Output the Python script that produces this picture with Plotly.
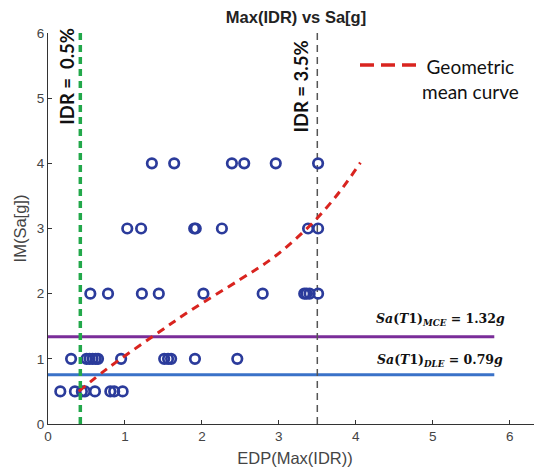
import plotly.graph_objects as go

# ---- data ----
x_im4 = [1.35, 1.64, 2.39, 2.55, 2.96, 3.51]
x_im3 = [1.03, 1.21, 1.90, 1.92, 2.26, 3.38, 3.51]
x_im2 = [0.55, 0.78, 1.22, 1.44, 2.02, 2.79, 3.33, 3.36, 3.40, 3.51]
x_im1 = [0.30, 0.50, 0.54, 0.58, 0.62, 0.65, 0.95, 1.51, 1.56, 1.60, 1.91, 2.46]
x_im05 = [0.16, 0.35, 0.44, 0.48, 0.61, 0.81, 0.86, 0.97]

curve_x = [0.40, 0.77, 1.37, 1.85, 2.50, 2.89, 3.20, 3.50, 3.80, 4.06]
curve_y = [0.50, 0.85, 1.35, 1.74, 2.22, 2.52, 2.82, 3.16, 3.58, 4.01]

idr_low = 0.42
idr_high = 3.5
sa_mce = 1.34
sa_dle = 0.755
hline_x = [0, 5.8]

xticks = [0, 1, 2, 3, 4, 5, 6]
yticks = [0, 1, 2, 3, 4, 5, 6]

pts_x = x_im4 + x_im3 + x_im2 + x_im1 + x_im05
pts_y = ([4] * len(x_im4) + [3] * len(x_im3) + [2] * len(x_im2)
         + [1] * len(x_im1) + [0.5] * len(x_im05))

fig = go.Figure()

fig.add_trace(go.Scatter(x=hline_x, y=[sa_mce, sa_mce], mode="lines",
                         line=dict(color="#7a2d99", width=3), showlegend=False))
fig.add_trace(go.Scatter(x=hline_x, y=[sa_dle, sa_dle], mode="lines",
                         line=dict(color="#3a72c8", width=3), showlegend=False))
fig.add_trace(go.Scatter(x=[idr_high, idr_high], y=[0, 6], mode="lines",
                         line=dict(color="#555555", width=1.5, dash="7px,5px"),
                         showlegend=False))
fig.add_trace(go.Scatter(x=pts_x, y=pts_y, mode="markers",
                         marker=dict(symbol="circle-open", size=9.5, color="#2b3b9b",
                                     line=dict(width=2.7, color="#2b3b9b")),
                         showlegend=False))
fig.add_trace(go.Scatter(x=curve_x, y=curve_y, mode="lines",
                         line=dict(color="#d9241f", width=3, dash="8px,6px", shape="spline",
                                   smoothing=1.0),
                         name="Geometric mean curve", showlegend=False))
fig.add_trace(go.Scatter(x=[idr_low, idr_low], y=[0, 6], mode="lines",
                         line=dict(color="#22a84a", width=3.5, dash="7px,5px"),
                         showlegend=False))

# legend sample (paper coords, relative to the plot area)
fig.add_shape(type="line", xref="paper", yref="paper",
              x0=(360 - 48) / 494, x1=(417 - 48) / 494,
              y0=(424 - 65) / 391, y1=(424 - 65) / 391,
              line=dict(color="#d9241f", width=3.5, dash="14px,7px"))

ann_font = dict(family="Lato, Open Sans, sans-serif", size=18.5, color="#111111")
fig.add_annotation(x=0.247, y=5.33, xref="x", yref="y", text="<b>IDR =  0.5%</b>",
                   textangle=-90, showarrow=False, font=ann_font)
fig.add_annotation(x=3.29, y=5.18, xref="x", yref="y", text="<b>IDR = 3.5%</b>",
                   textangle=-90, showarrow=False, font=ann_font)
fig.add_annotation(x=5.49, y=5.30, xref="x", yref="y", text="Geometric<br>mean curve",
                   showarrow=False, align="center",
                   font=dict(family="Lato, Open Sans, sans-serif", size=19, color="#111111"))
serif = dict(family="DejaVu Serif, Liberation Serif, serif", size=12.5, color="#111111")
fig.add_annotation(x=5.10, y=1.61, xref="x", yref="y",
                   text="<b><i>Sa</i>(<i>T</i>1)<sub><i>MCE</i></sub> = 1.32<i>g</i></b>",
                   showarrow=False, font=serif)
fig.add_annotation(x=5.09, y=0.97, xref="x", yref="y",
                   text="<b><i>Sa</i>(<i>T</i>1)<sub><i>DLE</i></sub> = 0.79<i>g</i></b>",
                   showarrow=False, font=serif)

# page has an 8px body margin, so the figure is sized/offset to compensate
fig.update_layout(
    width=534, height=467,
    margin=dict(l=40, r=0, t=25, b=51, autoexpand=False),
    paper_bgcolor="white", plot_bgcolor="white",
    title=dict(text="<b>Max(IDR) vs Sa[g]</b>", x=288 / 534, xanchor="center",
               y=1 - 9 / 467, yanchor="middle", automargin=False,
               font=dict(family="Liberation Sans, Arial, sans-serif", size=16.5, color="#222222")),
    font=dict(family="Liberation Sans, Arial, sans-serif", size=13, color="#444444"),
)
fig.update_xaxes(range=[0, 6.42], tickvals=xticks, ticks="inside", ticklen=4,
                 tickcolor="#333333", showgrid=False, zeroline=False, automargin=False,
                 showline=True, linecolor="#333333", linewidth=1, mirror=False,
                 title=dict(text="EDP(Max(IDR))", standoff=9,
                            font=dict(size=16.5, color="#444444")),
                 tickfont=dict(size=13.5, color="#444444"))
fig.update_yaxes(range=[0, 6], tickvals=yticks, ticks="inside", ticklen=4,
                 tickcolor="#333333", showgrid=False, zeroline=False, automargin=False,
                 showline=True, linecolor="#333333", linewidth=1, mirror=False,
                 title=dict(text="IM(Sa[g])", standoff=6,
                            font=dict(size=16.5, color="#444444")),
                 tickfont=dict(size=13.5, color="#444444"))

fig.write_html("out.html")
